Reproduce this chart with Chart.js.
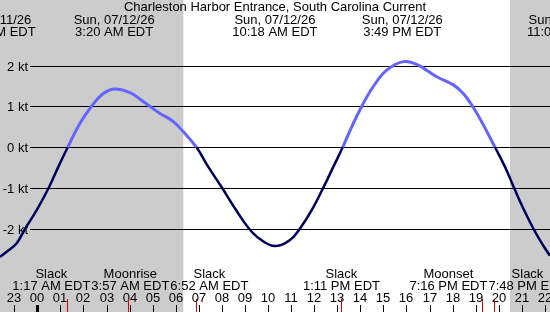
<!DOCTYPE html>
<html>
<head>
<meta charset="utf-8">
<script src="https://cdn.jsdelivr.net/npm/chart.js@4.4.1/dist/chart.umd.min.js"></script>
<style>
  body { margin: 0; background: #fff; }
  canvas { display: block; }
</style>
</head>
<body>
<canvas id="tideChart" width="550" height="312"></canvas>
<script>
// hours relative to midnight, Sun 07/12/26
const windowStart = -1.617
const windowEnd = 22.223

// current speed (kt)
const speedTimes = [-1.617, -1.326, -0.893, -0.533, -0.026, 0.507, 0.910, 1.318, 1.851, 2.358,
  2.861, 3.368, 4.018, 4.452, 4.885, 5.318, 5.895, 6.329, 6.900, 7.412,
  7.993, 8.570, 9.146, 9.653, 10.303, 10.954, 11.387, 11.894, 12.397, 12.830,
  13.238, 13.628, 14.061, 14.564, 15.145, 15.865, 16.446, 17.313, 18.032, 18.466,
  18.873, 19.333, 19.840, 20.273, 20.663, 21.066, 21.500, 21.864, 22.223]
const speeds = [-2.69, -2.56, -2.35, -2.00, -1.54, -0.98, -0.48, 0, 0.59, 1.01,
  1.32, 1.43, 1.34, 1.18, 1.00, 0.83, 0.63, 0.38, 0, -0.48,
  -0.98, -1.50, -1.97, -2.25, -2.42, -2.27, -1.99, -1.54, -0.99, -0.48,
  0, 0.50, 1.00, 1.49, 1.89, 2.10, 2.03, 1.73, 1.53, 1.32,
  1.00, 0.55, 0, -0.48, -0.99, -1.50, -1.99, -2.35, -2.66]

const yTicks = [-2, -1, 0, 1, 2]
const sunrise = 6.33
const sunset = 20.49

// max flood / max ebb labels (top)
const extremaTimes = [-1.92, 3.33, 10.30, 15.82, 23.05]
const extremaDates = ['Sat, 07/11/26', 'Sun, 07/12/26', 'Sun, 07/12/26', 'Sun, 07/12/26', 'Sun, 07/12/26']
const extremaLabels = ['10:05 PM EDT', '3:20 AM EDT', '10:18 AM EDT', '3:49 PM EDT', '11:03 PM EDT']

// slack and moon events (bottom)
const eventTimes = [1.283, 3.95, 6.867, 13.183, 19.267, 19.8]
const eventNames = ['Slack', 'Moonrise', 'Slack', 'Slack', 'Moonset', 'Slack']
const eventLabels = ['1:17 AM EDT', '3:57 AM EDT', '6:52 AM EDT', '1:11 PM EDT', '7:16 PM EDT', '7:48 PM EDT']

const FONT = '13px "Liberation Sans", Arial, sans-serif'
const FLOOD = '#6464ff'
const EBB = '#00005c'

//spread overlapping labels side by side around their mean position
function layoutLabels(centers, widths, gap) {
    let groups = centers.map((c, i) => ({ items: [i] }))
    const place = g => {
        const tot = g.items.reduce((s, i) => s + widths[i] + gap, 0)
        const mean = g.items.reduce((s, i) => s + centers[i], 0) / g.items.length
        g.start = mean - tot / 2
        g.end = mean + tot / 2
    }
    groups.forEach(place)
    let merged = true
    while (merged) {
        merged = false
        for (let k = 0; k < groups.length - 1; k++) {
            if (groups[k].end > groups[k + 1].start) {
                groups[k].items = groups[k].items.concat(groups[k + 1].items)
                groups.splice(k + 1, 1)
                place(groups[k])
                merged = true
                break
            }
        }
    }
    const out = []
    groups.forEach(g => {
        let x = g.start
        g.items.forEach(i => {
            out[i] = x + (widths[i] + gap) / 2
            x += widths[i] + gap
        })
    })
    return out
}

const backdrop = {
    id: 'backdrop',
    beforeDatasetsDraw(chart) {
        const { ctx, chartArea, scales: { x, y } } = chart
        ctx.save()
        ctx.fillStyle = '#fff'
        ctx.fillRect(0, 0, chart.width, chart.height)
        ctx.fillStyle = '#cccccc'
        ctx.fillRect(chartArea.left, 0, x.getPixelForValue(sunrise) - chartArea.left, chart.height)
        const xs = x.getPixelForValue(sunset)
        ctx.fillRect(xs, 0, chartArea.right - xs, chart.height)

        // speed grid lines + labels
        ctx.strokeStyle = '#000'
        ctx.lineWidth = 1
        ctx.font = FONT
        ctx.fillStyle = '#000'
        ctx.textAlign = 'right'
        ctx.textBaseline = 'alphabetic'
        yTicks.forEach(v => {
            const py = Math.round(y.getPixelForValue(v)) + 0.5
            ctx.beginPath()
            ctx.moveTo(30, py)
            ctx.lineTo(chartArea.right, py)
            ctx.stroke()
            ctx.fillText(v + ' kt', 28, py + 4.5)
        })
        ctx.restore()
    },
    afterDatasetsDraw(chart) {
        const { ctx, scales: { x } } = chart
        ctx.save()
        ctx.font = FONT
        ctx.fillStyle = '#000'
        ctx.textAlign = 'center'
        ctx.textBaseline = 'alphabetic'

        ctx.fillText('Charleston Harbor Entrance, South Carolina Current', 275, 11)
        extremaTimes.forEach((t, i) => {
            const px = x.getPixelForValue(t)
            ctx.fillText(extremaDates[i], px, 24)
            ctx.fillText(extremaLabels[i], px, 36)
        })

        // bottom events
        const centers = eventTimes.map(t => x.getPixelForValue(t))
        const widths = eventTimes.map((t, i) =>
            Math.max(ctx.measureText(eventNames[i]).width, ctx.measureText(eventLabels[i]).width))
        const pos = layoutLabels(centers, widths, 1)
        pos.forEach((px, i) => {
            ctx.fillText(eventNames[i], px, 278)
            ctx.fillText(eventLabels[i], px, 290)
        })

        // hour ticks
        for (let h = Math.ceil(windowStart); h <= Math.floor(windowEnd); h++) {
            const px = Math.round(x.getPixelForValue(h))
            const lab = String((h + 24) % 24).padStart(2, '0')
            ctx.fillText(lab, px, 301.5)
            if (h === 0) ctx.fillRect(px - 1, 305, 3, 7)
            else ctx.fillRect(px, 305, 1, 7)
        }
        ctx.fillStyle = '#dd0000'
        centers.forEach(px => ctx.fillRect(Math.round(px), 299, 1, 13))
        ctx.restore()
    }
}

new Chart(document.getElementById('tideChart').getContext('2d'), {
    type: 'line',
    data: {
        datasets: [{
            data: speedTimes.map((t, i) => ({ x: t, y: speeds[i] })),
            pointRadius: 0,
            tension: 0.4,
            borderColor: FLOOD,
            borderWidth: 3,
            segment: {
                borderColor: c => (c.p0.parsed.y + c.p1.parsed.y) / 2 >= 0 ? FLOOD : EBB,
                borderWidth: c => (c.p0.parsed.y + c.p1.parsed.y) / 2 >= 0 ? 3 : 2.5
            }
        }]
    },
    options: {
        responsive: false,
        animation: false,
        devicePixelRatio: 1,
        layout: { padding: 0 },
        scales: {
            x: { type: 'linear', min: windowStart, max: windowEnd, display: false },
            y: { min: -4.037, max: 3.610, display: false }
        },
        plugins: {
            legend: { display: false },
            tooltip: { enabled: false }
        }
    },
    plugins: [backdrop]
});
</script>
</body>
</html>
